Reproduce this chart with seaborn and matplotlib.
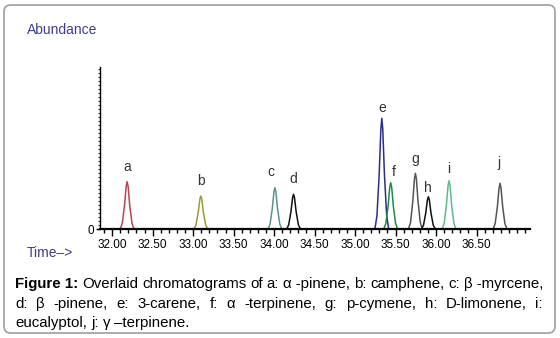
import pandas as pd
import seaborn as sns
import matplotlib.pyplot as plt
from matplotlib.patches import FancyBboxPatch
from matplotlib.ticker import MultipleLocator, FixedLocator

# Peak data
PEAK_IDS = ["a", "b", "c", "d", "e", "f", "g", "h", "i", "j"]
RET_TIMES = [32.185, 33.095, 34.01, 34.24, 35.33, 35.44, 35.745, 35.905, 36.16, 36.79]
ABUNDANCE = [473000, 330000, 413000, 347000, 1107000, 463000, 557000, 323000, 483000, 457000]
PEAK_COLORS = ["#b5474e", "#9c9a35", "#5c9392", "#111111", "#2a2f8a",
               "#1f8a44", "#555555", "#111111", "#5cba8e", "#555555"]

# shape of one peak (offset from apex in min, fraction of apex height)
PROFILE_DT = [-0.085, -0.06, -0.032, -0.012, 0.0, 0.012, 0.032, 0.06, 0.085]
PROFILE_FRAC = [0.0, 0.12, 0.5, 0.9, 1.0, 0.9, 0.5, 0.12, 0.0]

XTICK_VALUES = [32.0, 32.5, 33.0, 33.5, 34.0, 34.5, 35.0, 35.5, 36.0, 36.5]
XTICK_LABELS = ["32.00", "32.50", "33.00", "33.50", "34.00",
                "34.50", "35.00", "35.50", "36.00", "36.50"]

# label nudges in pixels (dx, dy above apex)
LABEL_NUDGE = [(0, 15), (0, 15), (-4, 16), (0, 15), (0, 10),
               (3, 11), (0, 14), (0, 9), (0, 12), (-1, 20)]

CAPTION = [
    ([("Figure 1:", True), ("Overlaid", False), ("chromatograms", False), ("of", False),
      ("a:", False), ("α -pinene,", False), ("b:", False), ("camphene,", False),
      ("c:", False), ("β -myrcene,", False)], True),
    ([("d:", False), ("β", False), ("-pinene,", False), ("e:", False), ("3-carene,", False),
      ("f:", False), ("α", False), ("-terpinene,", False), ("g:", False), ("p-cymene,", False),
      ("h:", False), ("D-limonene,", False), ("i:", False)], True),
    ([("eucalyptol,", False), ("j:", False), ("γ", False), ("–terpinene.", False)], False),
]

W, H = 560, 338
CAP_SIZE = 10.8


def build_frame():
    rows = []
    for pid, t, h in zip(PEAK_IDS, RET_TIMES, ABUNDANCE):
        for dt, fr in zip(PROFILE_DT, PROFILE_FRAC):
            rows.append({"peak": pid, "time": t + dt, "abundance": h * fr})
    return pd.DataFrame(rows)


def draw_justified(fig, renderer, y_px, words, x0, x1, justify):
    texts = []
    for w, bold in words:
        t = fig.text(0, 1 - y_px / H, w, fontsize=CAP_SIZE, va="center", ha="left",
                     fontweight="bold" if bold else "normal", color="black")
        texts.append(t)
    widths = [t.get_window_extent(renderer).width for t in texts]
    sp = fig.text(0, 0, "a a", fontsize=CAP_SIZE)
    sp2 = fig.text(0, 0, "aa", fontsize=CAP_SIZE)
    space = sp.get_window_extent(renderer).width - sp2.get_window_extent(renderer).width
    sp.remove()
    sp2.remove()
    gap = space
    if justify and len(texts) > 1:
        gap = max((x1 - x0 - sum(widths)) / (len(texts) - 1), 1.5)
    x = x0
    for t, w in zip(texts, widths):
        t.set_x(x / W)
        x += w + gap


def main():
    sns.set_style("white")
    plt.rcParams["font.family"] = ["Liberation Sans", "DejaVu Sans"]

    df = build_frame()
    fig = plt.figure(figsize=(W / 100, H / 100), dpi=100)
    ax = fig.add_axes([100 / W, (H - 229) / H, 430 / W, 162 / H])

    sns.lineplot(data=df, x="time", y="abundance", hue="peak",
                 palette=dict(zip(PEAK_IDS, PEAK_COLORS)), estimator=None,
                 sort=False, legend=False, linewidth=1.1, ax=ax)

    for pid, t, h, (dx, dy) in zip(PEAK_IDS, RET_TIMES, ABUNDANCE, LABEL_NUDGE):
        ax.annotate(pid, (t, h), xytext=(dx, dy), textcoords="offset pixels",
                    ha="center", va="center", fontsize=10, color="#333333")

    ax.set_xlim(31.85, 37.16)
    ax.set_ylim(0, 1620000)
    ax.set_xlabel("")
    ax.set_ylabel("")
    sns.despine(ax=ax, top=True, right=True)
    ax.spines["bottom"].set_linewidth(1.6)
    ax.spines["bottom"].set_color("black")
    ax.spines["left"].set_linewidth(1.0)
    ax.spines["left"].set_color("black")

    ax.xaxis.set_major_locator(FixedLocator(XTICK_VALUES))
    ax.set_xticklabels(XTICK_LABELS)
    ax.xaxis.set_minor_locator(MultipleLocator(0.1))
    ax.tick_params(axis="x", which="major", direction="out", length=5, width=1,
                   labelsize=8.5, pad=2, colors="black", bottom=True)
    ax.tick_params(axis="x", which="minor", direction="out", length=3, width=1,
                   bottom=True, colors="black")

    ax.yaxis.set_major_locator(FixedLocator([0]))
    ax.set_yticklabels(["0"])
    ax.yaxis.set_minor_locator(MultipleLocator(40000))
    ax.tick_params(axis="y", which="major", direction="out", length=3, width=1,
                   labelsize=8.5, pad=1, left=True, colors="black")
    ax.tick_params(axis="y", which="minor", direction="out", length=1.5, width=0.8,
                   left=True, colors="#333333")

    fig.text(27 / W, 1 - 30 / H, "Abundance", fontsize=10, color="#3d3d8c",
             ha="left", va="center")
    fig.text(27 / W, 1 - 253 / H, "Time–>", fontsize=10, color="#3d3d8c",
             ha="left", va="center")

    border = FancyBboxPatch((4 / W, 5 / H), 551 / W, 328 / H,
                            boxstyle="round,pad=0,rounding_size=0.012",
                            mutation_aspect=W / H, transform=fig.transFigure,
                            fill=False, ec="#a6a6a6", lw=1.3)
    fig.patches.append(border)

    renderer = fig.canvas.get_renderer()
    for (words, justify), y in zip(CAPTION, [284, 304, 323]):
        draw_justified(fig, renderer, y, words, 15, 543, justify)

    fig.savefig("out.png", dpi=100)
    plt.close(fig)


if __name__ == "__main__":
    main()
